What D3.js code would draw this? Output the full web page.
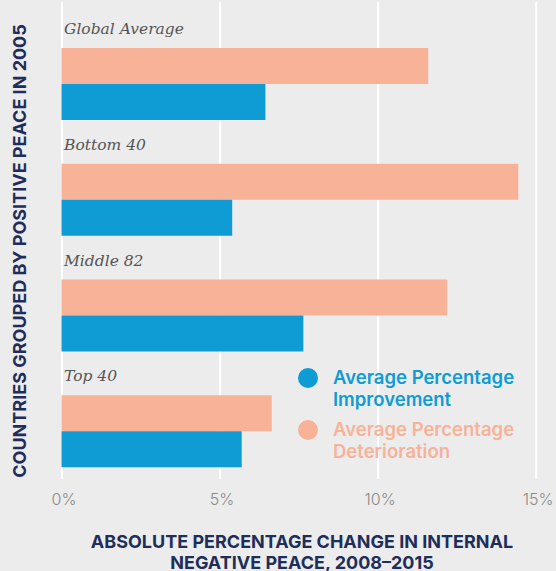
<!DOCTYPE html>
<html>
<head>
<meta charset="utf-8">
<script src="https://cdn.jsdelivr.net/npm/d3@7"></script>
<style>
  html, body { margin: 0; padding: 0; background: #ececec; }
  svg { display: block; }
</style>
</head>
<body>
<div id="chart"></div>
<script>
// data
const groups = ["Global Average", "Bottom 40", "Middle 82", "Top 40"];
const deterioration = [11.6, 14.45, 12.2, 6.65];
const improvement = [6.45, 5.4, 7.65, 5.7];
const xTicks = [0, 5, 10, 15];

const width = 556, height = 571;
const colors = { improvement: "#0f9bd4", deterioration: "#f8b298" };
const navy = "#1f2d5a";
const sans = "Inter, 'Noto Sans', sans-serif";

const svg = d3.select("#chart").append("svg")
  .attr("width", width).attr("height", height);

svg.append("rect").attr("width", width).attr("height", height).attr("fill", "#ececec");

// scales
const x = d3.scaleLinear().domain([0, 15]).range([61.5, 535.7]);
const y = d3.scaleBand().domain(groups).range([4, 467]).paddingInner(0);
const ySeries = d3.scaleBand().domain(["deterioration", "improvement"]).range([44, 116]);

// gridlines + tick labels
const xAxis = d3.axisBottom(x).tickValues(xTicks).tickSize(-477).tickFormat(d => d + "%");
const gx = svg.append("g")
  .attr("class", "x-axis")
  .attr("transform", `translate(0, 479)`)
  .call(xAxis);
gx.select(".domain").remove();
gx.selectAll(".tick line").attr("stroke", "#ffffff").attr("stroke-width", 2);
gx.selectAll(".tick text")
  .attr("dy", 0).attr("y", 26).attr("dx", 2)
  .attr("fill", "#8a8a8a")
  .style("font-family", sans)
  .style("font-weight", 300)
  .style("font-size", "16px");

// bars
const rows = groups.map((g, i) => ({ group: g, deterioration: deterioration[i], improvement: improvement[i] }));

const gRows = svg.selectAll(".row").data(rows).enter().append("g")
  .attr("class", "row")
  .attr("transform", d => `translate(0, ${y(d.group)})`);

gRows.append("text")
  .attr("x", 64).attr("y", 30)
  .attr("fill", "#555")
  .style("font-family", "'DejaVu Serif', Georgia, serif")
  .style("font-style", "italic")
  .style("font-size", "15.5px")
  .text(d => d.group);

["deterioration", "improvement"].forEach(k => {
  gRows.append("rect")
    .attr("x", x(0))
    .attr("y", ySeries(k))
    .attr("width", d => x(d[k]) - x(0))
    .attr("height", ySeries.bandwidth())
    .attr("fill", colors[k]);
});

// legend
const legend = [
  { key: "improvement", lines: ["Average Percentage", "Improvement"], y: 378 },
  { key: "deterioration", lines: ["Average Percentage", "Deterioration"], y: 430 }
];
const lg = svg.selectAll(".legend").data(legend).enter().append("g")
  .attr("class", "legend")
  .attr("transform", d => `translate(308, ${d.y})`);
lg.append("circle").attr("r", 10).attr("fill", d => colors[d.key]);
lg.append("text")
  .attr("x", 25).attr("y", 5.5)
  .attr("fill", d => colors[d.key])
  .style("font-family", sans)
  .style("font-weight", 600)
  .style("font-size", "18.5px")
  .selectAll("tspan").data(d => d.lines).enter().append("tspan")
  .attr("x", 25).attr("dy", (d, i) => i ? 22 : 0)
  .text(d => d);

// axis titles
svg.append("text")
  .attr("transform", `translate(25.5, 251) rotate(-90)`)
  .attr("text-anchor", "middle")
  .attr("fill", navy)
  .style("font-family", sans)
  .style("font-weight", 700)
  .style("font-size", "18px")
  .text("COUNTRIES GROUPED BY POSITIVE PEACE IN 2005");

svg.append("text")
  .attr("text-anchor", "middle")
  .attr("fill", navy)
  .style("font-family", sans)
  .style("font-weight", 700)
  .style("font-size", "18px")
  .selectAll("tspan")
  .data(["ABSOLUTE PERCENTAGE CHANGE IN INTERNAL", "NEGATIVE PEACE, 2008–2015"])
  .enter().append("tspan")
  .attr("x", 302).attr("y", (d, i) => 548 + i * 21)
  .text(d => d);
</script>
</body>
</html>
